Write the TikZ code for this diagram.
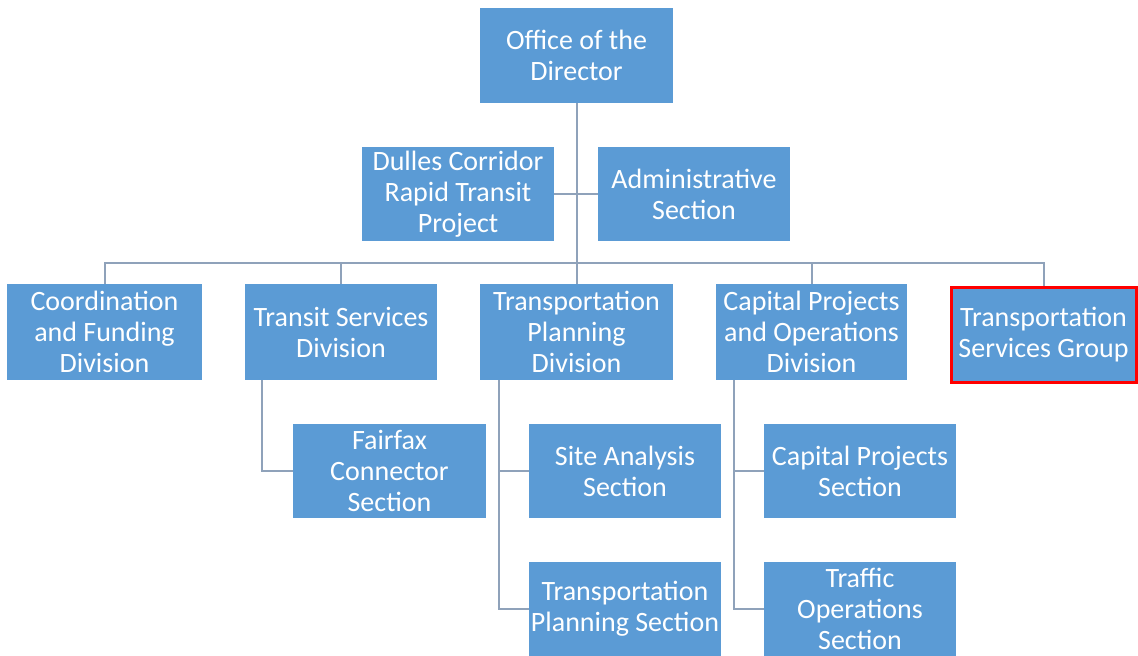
\documentclass[tikz,border=0pt]{standalone}
\usepackage{fontspec}
\setmainfont{Carlito}
\definecolor{boxblue}{HTML}{5B9BD5}
\definecolor{linegray}{HTML}{8FA2BA}
\definecolor{hlred}{HTML}{FF0000}
\begin{document}
\begin{tikzpicture}[x=1pt,y=-1pt,
  unit/.style={rectangle, fill=boxblue, text=white, align=center,
    minimum width=192pt, minimum height=94pt, inner sep=0pt,
    font=\fontsize{28}{31}\selectfont},
  link/.style={draw=linegray, line width=2pt}]
\useasboundingbox (0,0) rectangle (1138,656);
\fill[white] (0,0) rectangle (1138,656);

\node[unit, minimum width=193pt, minimum height=95pt] (office) at (576.5,55.5) {Office of the\\Director};
\node[unit] (dulles) at (458,194) {Dulles Corridor\\Rapid Transit\\Project};
\node[unit] (admin) at (694,194) {Administrative\\Section};

\node[unit, minimum width=195pt, minimum height=96pt] (coord) at (104.5,332) {Coordination\\and Funding\\Division};
\node[unit, minimum height=96pt] (transit) at (341,332) {Transit Services\\Division};
\node[unit, minimum width=193pt, minimum height=96pt] (tpd) at (576.5,332) {Transportation\\Planning\\Division};
\node[unit, minimum width=191pt, minimum height=96pt] (cpod) at (811.5,332) {Capital Projects\\and Operations\\Division};
\node[unit, minimum width=185pt, minimum height=95pt, draw=hlred, line width=3pt] (tsg) at (1043.5,335) {Transportation\\Services Group};

\node[unit, minimum width=193pt] (fairfax) at (389.5,471) {Fairfax\\Connector\\Section};
\node[unit] (site) at (625,471) {Site Analysis\\Section};
\node[unit] (tps) at (625,609) {Transportation\\Planning Section};
\node[unit] (cps) at (860,471) {Capital Projects\\Section};
\node[unit] (tos) at (860,609) {Traffic\\Operations\\Section};

\coordinate (bus) at (576.5,263);

\draw[link] (office.south) -- (tpd.north);
\draw[link] (dulles.east) -- (admin.west);
\draw[link] (coord.north) |- (tsg.north |- bus) -- (tsg.north);
\draw[link] (transit.north) -- (transit.north |- bus);
\draw[link] (cpod.north) -- (cpod.north |- bus);

\draw[link] ([xshift=-79pt]transit.south) |- (fairfax.west);
\draw[link] ([xshift=-78pt]tpd.south) |- (tps.west);
\draw[link] ([xshift=-78pt]tpd.south |- site.west) -- (site.west);
\draw[link] ([xshift=-77.5pt]cpod.south) |- (tos.west);
\draw[link] ([xshift=-77.5pt]cpod.south |- cps.west) -- (cps.west);
\end{tikzpicture}
\end{document}
